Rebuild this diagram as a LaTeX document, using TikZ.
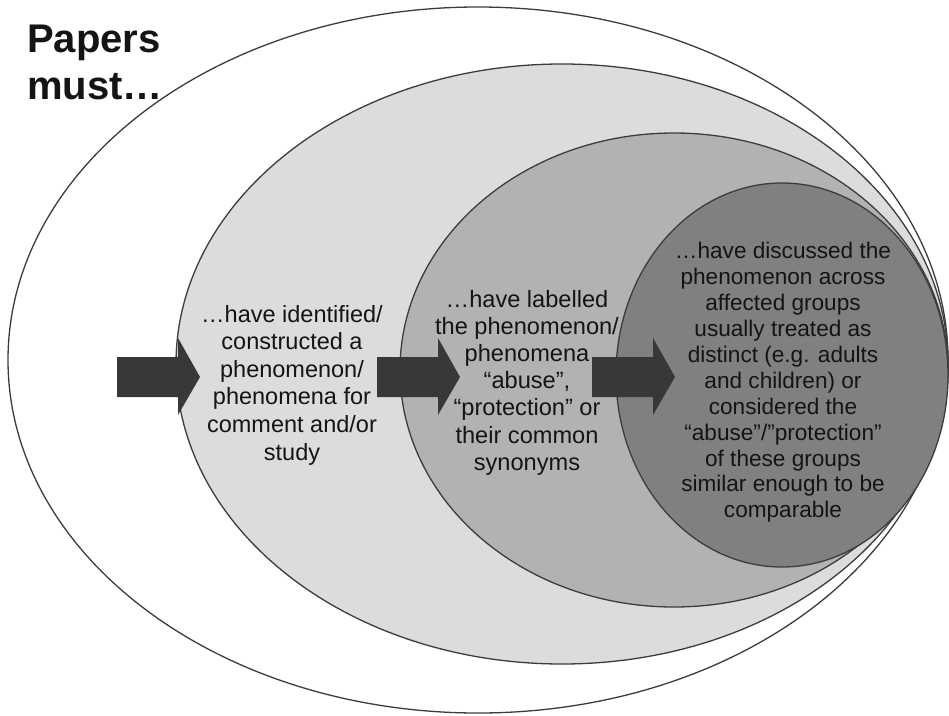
\documentclass[tikz,border=0pt]{standalone}
\usepackage{fontspec}
\setmainfont{Liberation Sans}
\definecolor{lgray}{HTML}{DCDCDC}
\definecolor{mgray}{HTML}{B2B2B2}
\definecolor{dgray}{HTML}{808080}
\definecolor{edge}{HTML}{3C3C3C}
\definecolor{arrowfill}{HTML}{383838}
\definecolor{ink}{HTML}{141414}
\begin{document}
\begin{tikzpicture}[x=1pt,y=-1pt,
  setshape/.style={draw=edge,line width=1.3pt},
  blockarrow/.style={fill=arrowfill,draw=none},
  label/.style={align=center,inner sep=0pt,text=ink}]
\useasboundingbox (0,0) rectangle (949,715);
\fill[white] (0,0) rectangle (949,715);
% nested sets
\draw[setshape,fill=white] (478,360) ellipse [x radius=470pt,y radius=353pt];
\draw[setshape,fill=lgray] (562,364) ellipse [x radius=386pt,y radius=300pt];
\draw[setshape,fill=mgray] (674,370) ellipse [x radius=274pt,y radius=237pt];
\draw[setshape,fill=dgray] (782,375) ellipse [x radius=166pt,y radius=192pt];
% block arrows
\foreach \s in {117,377,592}{
  \fill[blockarrow] (\s,357) -- ++(61,0) -- ++(0,-19) -- ++(22,39) -- ++(-22,38) -- ++(0,-18) -- ++(-61,0) -- cycle;
}
% texts
\node[label,anchor=north west,align=left,font=\bfseries\fontsize{40}{47}\selectfont] (title) at (27,25) {Papers\\must\ldots};
\node[label,font=\fontsize{23.5}{27.6}\selectfont] (t1) at (292,385)
  {\ldots have identified/\\constructed a\\phenomenon/\\phenomena for\\comment and/or\\study};
\node[label,font=\fontsize{23.6}{27.2}\selectfont] (t2) at (527,382.5)
  {\ldots have labelled\\the phenomenon/\\phenomena\\“abuse”,\\“protection” or\\their common\\synonyms};
\node[label,font=\fontsize{22.6}{25.9}\selectfont] (t3) at (783,382.5)
  {\ldots have discussed the\\phenomenon across\\affected groups\\usually treated as\\distinct (e.g. adults\\and children) or\\considered the\\“abuse”/”protection”\\of these groups\\similar enough to be\\comparable};
\end{tikzpicture}
\end{document}
